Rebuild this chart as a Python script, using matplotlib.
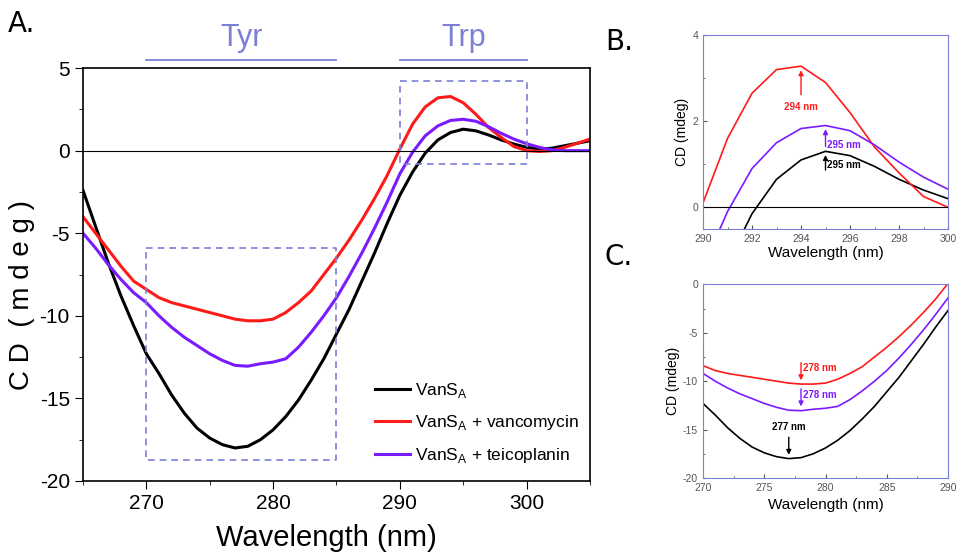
import numpy as np
import matplotlib.pyplot as plt
from matplotlib.ticker import MultipleLocator

# wavelength grid (nm) and CD (mdeg)
wl = np.arange(265, 306)

vans = [-2.4, -4.6, -6.8, -8.8, -10.6,
        -12.3, -13.5, -14.8, -15.9, -16.8, -17.4, -17.8, -18.0, -17.9, -17.5,
        -16.9, -16.1, -15.1, -13.9, -12.6, -11.1, -9.6, -7.9, -6.2, -4.4,
        -2.7, -1.3, -0.15, 0.65, 1.1, 1.3, 1.2, 0.95, 0.65, 0.4,
        0.2, 0.1, 0.15, 0.3, 0.45, 0.6]
vanco = [-4.0, -5.0, -6.0, -7.0, -7.9,
         -8.4, -8.9, -9.2, -9.4, -9.6, -9.8, -10.0, -10.2, -10.3, -10.3,
         -10.2, -9.8, -9.2, -8.5, -7.5, -6.5, -5.4, -4.2, -2.9, -1.5,
         0.1, 1.6, 2.65, 3.2, 3.28, 2.9, 2.2, 1.4, 0.8, 0.25,
         0.0, -0.05, 0.0, 0.2, 0.45, 0.7]
teico = [-5.0, -5.9, -6.9, -7.8, -8.6,
         -9.2, -10.0, -10.7, -11.3, -11.8, -12.3, -12.7, -13.0, -13.05, -12.9,
         -12.8, -12.6, -11.9, -11.0, -10.0, -8.9, -7.6, -6.2, -4.7, -3.1,
         -1.4, -0.1, 0.9, 1.5, 1.83, 1.9, 1.78, 1.45, 1.05, 0.7,
         0.42, 0.2, 0.05, 0.0, 0.0, 0.0]

labels = ["VanS$_\\mathregular{A}$", "VanS$_\\mathregular{A}$ + vancomycin",
          "VanS$_\\mathregular{A}$ + teicoplanin"]
colors = ["black", "#ff1a1a", "#7a1aff"]
series = [vans, vanco, teico]

plt.rcParams["font.family"] = ["Liberation Sans", "DejaVu Sans"]
plt.rcParams["axes.unicode_minus"] = False
box_c = "#7b7fd6"

fig = plt.figure(figsize=(9.57, 5.58), dpi=100)

# ---- panel A
ax = fig.add_axes([0.0867, 0.138, 0.5298, 0.740])
for y, c, lab in zip(series, colors, labels):
    ax.plot(wl, y, color=c, lw=2.2, label=lab)
ax.axhline(0, color="black", lw=0.8)
ax.set_xlim(265, 305)
ax.set_ylim(-20, 5)
ax.xaxis.set_major_locator(MultipleLocator(10))
ax.xaxis.set_minor_locator(MultipleLocator(5))
ax.yaxis.set_major_locator(MultipleLocator(5))
ax.yaxis.set_minor_locator(MultipleLocator(2.5))
ax.tick_params(which="major", direction="out", length=6, labelsize=15)
ax.tick_params(which="minor", direction="out", length=3)
ax.set_xlabel("Wavelength (nm)", fontsize=21)
ax.set_ylabel("C D  ( m d e g )", fontsize=20)
ax.yaxis.set_label_coords(-0.095, 0.45)
ax.xaxis.set_label_coords(0.48, -0.105)
for s in ax.spines.values():
    s.set_linewidth(1.2)
# dashed boxes
ax.plot([270, 285, 285, 270, 270], [-5.9, -5.9, -18.7, -18.7, -5.9],
        ls=(0, (4, 3)), color=box_c, lw=1.2)
ax.plot([290, 300, 300, 290, 290], [4.2, 4.2, -0.8, -0.8, 4.2],
        ls=(0, (4, 3)), color=box_c, lw=1.2)
# region markers above
ax.plot([270, 285], [5.5, 5.5], color=box_c, lw=1.3, clip_on=False)
ax.plot([290, 300], [5.5, 5.5], color=box_c, lw=1.3, clip_on=False)
ax.text(277.5, 5.9, "Tyr", color=box_c, fontsize=22, ha="center", va="bottom")
ax.text(295, 5.9, "Trp", color=box_c, fontsize=22, ha="center", va="bottom")
leg = ax.legend(loc="lower left", bbox_to_anchor=(0.545, 0.0), frameon=False,
                fontsize=12.5, handlelength=2.0, handletextpad=0.3, labelspacing=0.8)
fig.text(0.008, 0.957, "A.", fontsize=20, family="DejaVu Sans", va="center")

# ---- panel B
tick_c = "#555555"
axb = fig.add_axes([0.7346, 0.590, 0.256, 0.347])
for y, c in zip(series, colors):
    axb.plot(wl, y, color=c, lw=1.2)
axb.axhline(0, color="black", lw=0.8)
axb.set_xlim(290, 300)
axb.set_ylim(-0.5, 4)
axb.xaxis.set_major_locator(MultipleLocator(2))
axb.xaxis.set_minor_locator(MultipleLocator(1))
axb.yaxis.set_major_locator(MultipleLocator(2))
axb.yaxis.set_minor_locator(MultipleLocator(1))
axb.set_xlabel("Wavelength (nm)", fontsize=11, labelpad=2)
axb.set_ylabel("CD (mdeg)", fontsize=10, labelpad=2)
axb.annotate("", xy=(294, 3.25), xytext=(294, 2.55),
             arrowprops=dict(arrowstyle="-|>", color=colors[1], lw=1, mutation_scale=7))
axb.text(294, 2.45, "294 nm", color=colors[1], fontsize=7, ha="center", va="top",
         fontweight="bold")
axb.annotate("", xy=(295, 1.88), xytext=(295, 1.35),
             arrowprops=dict(arrowstyle="-|>", color=colors[2], lw=1, mutation_scale=7))
axb.text(295.05, 1.45, "295 nm", color=colors[2], fontsize=7, ha="left", va="center",
         fontweight="bold")
axb.annotate("", xy=(295, 1.28), xytext=(295, 0.8),
             arrowprops=dict(arrowstyle="-|>", color="black", lw=1, mutation_scale=7))
axb.text(295.05, 0.98, "295 nm", color="black", fontsize=7, ha="left", va="center",
         fontweight="bold")
fig.text(0.632, 0.925, "B.", fontsize=20, family="DejaVu Sans", va="center")

# ---- panel C
axc = fig.add_axes([0.7346, 0.1434, 0.256, 0.347])
for y, c in zip(series, colors):
    axc.plot(wl, y, color=c, lw=1.2)
axc.set_xlim(270, 290)
axc.set_ylim(-20, 0)
axc.xaxis.set_major_locator(MultipleLocator(5))
axc.xaxis.set_minor_locator(MultipleLocator(2.5))
axc.yaxis.set_major_locator(MultipleLocator(5))
axc.yaxis.set_minor_locator(MultipleLocator(2.5))
axc.set_xlabel("Wavelength (nm)", fontsize=11, labelpad=4)
axc.set_ylabel("CD (mdeg)", fontsize=10, labelpad=2)
axc.annotate("", xy=(278, -10.2), xytext=(278, -7.8),
             arrowprops=dict(arrowstyle="-|>", color=colors[1], lw=1, mutation_scale=7))
axc.text(278.2, -8.6, "278 nm", color=colors[1], fontsize=7, ha="left", va="center",
         fontweight="bold")
axc.annotate("", xy=(278, -12.9), xytext=(278, -10.5),
             arrowprops=dict(arrowstyle="-|>", color=colors[2], lw=1, mutation_scale=7))
axc.text(278.2, -11.4, "278 nm", color=colors[2], fontsize=7, ha="left", va="center",
         fontweight="bold")
axc.annotate("", xy=(277, -17.9), xytext=(277, -15.5),
             arrowprops=dict(arrowstyle="-|>", color="black", lw=1, mutation_scale=7))
axc.text(277, -15.2, "277 nm", color="black", fontsize=7, ha="center", va="bottom",
         fontweight="bold")
fig.text(0.632, 0.54, "C.", fontsize=20, family="DejaVu Sans", va="center")

for a in (axb, axc):
    for s in a.spines.values():
        s.set_color(box_c)
    a.tick_params(which="both", direction="in", colors=tick_c, labelsize=7.5,
                  labelcolor=tick_c)
    a.tick_params(which="major", length=3)
    a.tick_params(which="minor", length=1.5)

fig.savefig("out.png", dpi=100)
